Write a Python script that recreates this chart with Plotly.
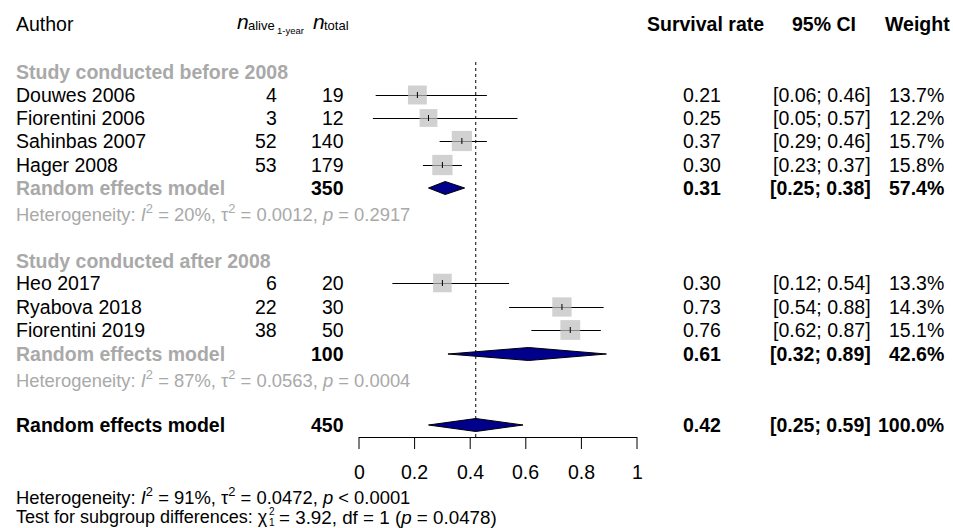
import plotly.graph_objects as go
import numpy as np

# ---- study-level data ----
authors = ["Douwes 2006", "Fiorentini 2006", "Sahinbas 2007", "Hager 2008",
           "Heo 2017", "Ryabova 2018", "Fiorentini 2019"]
n_alive = [4, 3, 52, 53, 6, 22, 38]
n_total = [19, 12, 140, 179, 20, 30, 50]
est = [0.21, 0.25, 0.37, 0.30, 0.30, 0.73, 0.76]
ci_lo = [0.06, 0.05, 0.29, 0.23, 0.12, 0.54, 0.62]
ci_hi = [0.46, 0.57, 0.46, 0.37, 0.54, 0.88, 0.87]
weight = [13.7, 12.2, 15.7, 15.8, 13.3, 14.3, 15.1]

# ---- subgroup pooled estimates ----
group_names = ["Study conducted before 2008", "Study conducted after 2008"]
grp_n = [350, 100]
grp_est = [0.31, 0.61]
grp_lo = [0.25, 0.32]
grp_hi = [0.38, 0.89]
grp_weight = [57.4, 42.6]
grp_het = ["Heterogeneity: <i>I</i><sup>2</sup> = 20%, τ<sup>2</sup> = 0.0012, <i>p</i> = 0.2917",
           "Heterogeneity: <i>I</i><sup>2</sup> = 87%, τ<sup>2</sup> = 0.0563, <i>p</i> = 0.0004"]

# ---- overall pooled estimate ----
all_n = 450
all_est = 0.42
all_lo = 0.25
all_hi = 0.59
all_weight = 100.0
all_het = "Heterogeneity: <i>I</i><sup>2</sup> = 91%, τ<sup>2</sup> = 0.0472, <i>p</i> < 0.0001"
subgroup_test = "= 3.92, df = 1 (<i>p</i> = 0.0478)"

axis_ticks = [0, 0.2, 0.4, 0.6, 0.8, 1]
tick_labels = ["0", "0.2", "0.4", "0.6", "0.8", "1"]

# ---- layout geometry (pixels) ----
W, H = 953, 528
X0_PX, UNIT_PX = 359, 278          # pixel of x=0 and pixels per unit
study_y = [95, 118, 141, 165, 283, 307, 330]
grp_head_y = [72, 261]
grp_re_y = [188, 354]
grp_het_y = [213, 379]
all_y = 425
axis_y = 437
HALF = 0.5                          # keeps 1px lines on a single pixel row
FONT = "Liberation Sans, Arial, sans-serif"
FS = 19.5
FS_HET = 18.4
GRAY = "#A9A9A9"
BOX = "#BEBEBE"
DIAMOND = "#00008B"

col_alive = 279
col_total = 346
col_est = 723
col_ci = 873
col_w = 946

fig = go.Figure()
ann = []


def txt(px, py, s, anchor="left", color="black", size=FS, bold=False):
    if bold:
        s = "<b>" + s + "</b>"
    ann.append(dict(x=px / W, y=py, xref="paper", yref="y", text=s,
                    xanchor=anchor, yanchor="middle", showarrow=False,
                    font=dict(family=FONT, size=size, color=color)))


# column headers
txt(14, 24, "Author")
txt(235, 21, "<i>n</i>", size=21)
txt(246, 25, "alive", size=13)
txt(275, 30, "1-year", size=9.5)
txt(311, 21, "<i>n</i>", size=21)
txt(322, 25, "total", size=13)
txt(705, 24, "Survival rate", anchor="center", bold=True)
txt(824, 24, "95% CI", anchor="center", bold=True)
txt(917, 24, "Weight", anchor="center", bold=True)

# confidence interval whiskers
cx, cy = [], []
for lo, hi, y in zip(ci_lo, ci_hi, study_y):
    cx += [lo, hi, None]
    cy += [y + HALF, y + HALF, None]
fig.add_trace(go.Scatter(x=cx, y=cy, mode="lines", line=dict(color="black", width=1),
                         hoverinfo="skip", showlegend=False))

# overall-estimate reference line
fig.add_shape(type="line", x0=all_est, x1=all_est, y0=62, y1=axis_y, xref="x", yref="y",
              line=dict(color="black", width=1, dash="dot"), layer="below")

# weighted boxes
fig.add_trace(go.Scatter(x=est, y=study_y, mode="markers",
                         marker=dict(symbol="square", color=BOX,
                                     size=[5.1 * np.sqrt(w) for w in weight], line=dict(width=0)),
                         hoverinfo="skip", showlegend=False))

# point-estimate ticks
tx, ty = [], []
for e, y in zip(est, study_y):
    tx += [e, e, None]
    ty += [y - 3, y + 3, None]
fig.add_trace(go.Scatter(x=tx, y=ty, mode="lines", line=dict(color="black", width=1),
                         hoverinfo="skip", showlegend=False))


def diamond(lo, e, hi, yc, h=6.5):
    fig.add_trace(go.Scatter(x=[lo, e, hi, e, lo], y=[yc, yc - h, yc, yc + h, yc],
                             mode="lines", fill="toself", fillcolor=DIAMOND,
                             line=dict(color="black", width=1),
                             hoverinfo="skip", showlegend=False))


# study rows
for i in range(len(authors)):
    y = study_y[i]
    txt(14, y, authors[i])
    txt(col_alive, y, str(n_alive[i]), anchor="right")
    txt(col_total, y, str(n_total[i]), anchor="right")
    txt(col_est, y, f"{est[i]:.2f}", anchor="right")
    txt(col_ci, y, f"[{ci_lo[i]:.2f}; {ci_hi[i]:.2f}]", anchor="right")
    txt(col_w, y, f"{weight[i]:.1f}%", anchor="right")

# subgroup rows
for g in range(2):
    txt(14, grp_head_y[g], group_names[g], color=GRAY, bold=True)
    y = grp_re_y[g]
    diamond(grp_lo[g], grp_est[g], grp_hi[g], y)
    txt(14, y, "Random effects model", color=GRAY, bold=True)
    txt(col_total, y, str(grp_n[g]), anchor="right", bold=True)
    txt(col_est, y, f"{grp_est[g]:.2f}", anchor="right", bold=True)
    txt(col_ci, y, f"[{grp_lo[g]:.2f}; {grp_hi[g]:.2f}]", anchor="right", bold=True)
    txt(col_w, y, f"{grp_weight[g]:.1f}%", anchor="right", bold=True)
    txt(14, grp_het_y[g], grp_het[g], color=GRAY, size=FS_HET)

# overall row
diamond(all_lo, all_est, all_hi, all_y)
txt(14, all_y, "Random effects model", bold=True)
txt(col_total, all_y, str(all_n), anchor="right", bold=True)
txt(col_est, all_y, f"{all_est:.2f}", anchor="right", bold=True)
txt(col_ci, all_y, f"[{all_lo:.2f}; {all_hi:.2f}]", anchor="right", bold=True)
txt(col_w, all_y, f"{all_weight:.1f}%", anchor="right", bold=True)

# x axis drawn on the data scale
ax_x, ax_y = [axis_ticks[0], axis_ticks[-1], None], [axis_y + HALF, axis_y + HALF, None]
for t in axis_ticks:
    ax_x += [t, t, None]
    ax_y += [axis_y, axis_y + 12, None]
fig.add_trace(go.Scatter(x=ax_x, y=ax_y, mode="lines", line=dict(color="black", width=1),
                         hoverinfo="skip", showlegend=False))
for t, lab in zip(axis_ticks, tick_labels):
    ann.append(dict(x=t, y=472, xref="x", yref="y", text=lab, xanchor="center",
                    yanchor="middle", showarrow=False,
                    font=dict(family=FONT, size=FS, color="black")))

# bottom statistics
txt(14, 496, all_het, size=FS_HET)
txt(14, 517, "Test for subgroup differences: χ", size=18)
txt(267, 511, "2", size=10)
txt(267, 522, "1", size=10)
txt(277, 517, subgroup_test, size=18.8)

fig.update_layout(
    width=W, height=H, margin=dict(l=0, r=0, t=0, b=0),
    paper_bgcolor="white", plot_bgcolor="white",
    xaxis=dict(range=[-X0_PX / UNIT_PX, (W - X0_PX) / UNIT_PX], visible=False, fixedrange=True),
    yaxis=dict(range=[H, 0], visible=False, fixedrange=True),
    annotations=ann, showlegend=False,
)

fig.write_html("out.html")
